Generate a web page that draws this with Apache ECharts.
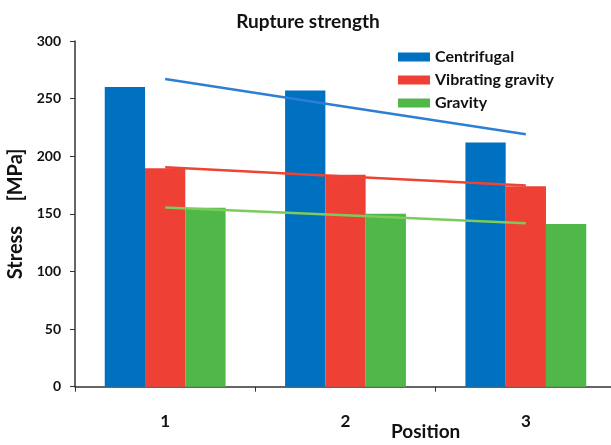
<!DOCTYPE html>
<html><head><meta charset="utf-8">
<script src="https://cdn.jsdelivr.net/npm/echarts@6/dist/echarts.min.js"></script>
<style>html,body{margin:0;padding:0;background:#fff}#c{width:611px;height:445px}</style>
</head><body><div id="c"></div>
<script>
const categories = ['1', '2', '3'];
const centrifugal = [260, 257, 212];
const vibratingGravity = [189.5, 184, 174];
const gravity = [155.3, 150.1, 141.2];
const centrifugalTrend = [267, 243, 219];
const vibratingTrend = [190.5, 182.5, 174.5];
const gravityTrend = [155.6, 148.8, 141.8];
const yTicks = [0, 50, 100, 150, 200, 250, 300];

const FONT = 'Lato';
const chart = echarts.init(document.getElementById('c'), null, {renderer: 'canvas'});
chart.setOption({
  animation: false,
  title: {
    text: 'Rupture strength', left: 303, top: 7, textAlign: 'center',
    textStyle: {fontFamily: FONT, fontWeight: 'bold', fontSize: 19, color: '#111'}
  },
  legend: {
    data: ['Centrifugal', 'Vibrating gravity', 'Gravity'],
    orient: 'vertical', left: 393, top: 44, itemWidth: 32, itemHeight: 9, itemGap: 7,
    icon: 'rect',
    textStyle: {fontFamily: FONT, fontWeight: 'bold', fontSize: 16, color: '#111'}
  },
  graphic: [{
    type: 'text', left: 391, top: 422,
    style: {text: 'Position', font: 'bold 19px Lato', fill: '#111'}
  }],
  grid: {left: 75, top: 41, width: 541, height: 345.7, containLabel: false, outerBoundsMode: 'none'},
  xAxis: {
    type: 'category', data: categories,
    axisLine: {lineStyle: {color: '#333', width: 1.5}},
    axisTick: {show: true, length: 5, lineStyle: {color: '#333'}},
    axisLabel: {margin: 26, fontFamily: FONT, fontWeight: 'bold', fontSize: 17, color: '#111'}
  },
  yAxis: {
    type: 'value', min: 0, max: 300, interval: 50,
    name: 'Stress     [MPa]', nameLocation: 'middle', nameGap: 48, nameRotate: 90,
    nameTextStyle: {fontFamily: FONT, fontWeight: 'bold', fontSize: 20, color: '#111'},
    splitLine: {show: false},
    axisLine: {show: true, lineStyle: {color: '#333', width: 1.5}},
    axisTick: {show: true, length: 5, lineStyle: {color: '#333'}},
    axisLabel: {margin: 14, fontFamily: FONT, fontWeight: 'bold', fontSize: 14, color: '#111',
      formatter: v => yTicks.includes(v) ? String(v) : ''}
  },
  series: [
    {name: 'Centrifugal', type: 'bar', data: centrifugal, barGap: '0%', barCategoryGap: '33%',
      itemStyle: {color: '#0070C0'}},
    {name: 'Vibrating gravity', type: 'bar', data: vibratingGravity, itemStyle: {color: '#EE4035'}},
    {name: 'Gravity', type: 'bar', data: gravity, itemStyle: {color: '#50B848'}},
    {name: 'c-trend', type: 'line', data: centrifugalTrend, symbol: 'none',
      lineStyle: {color: '#2E7FD3', width: 2.5}, z: 5},
    {name: 'v-trend', type: 'line', data: vibratingTrend, symbol: 'none',
      lineStyle: {color: '#EE4433', width: 2.5}, z: 5},
    {name: 'g-trend', type: 'line', data: gravityTrend, symbol: 'none',
      lineStyle: {color: '#7CCB5C', width: 2.5}, z: 5}
  ]
});
</script></body></html>
